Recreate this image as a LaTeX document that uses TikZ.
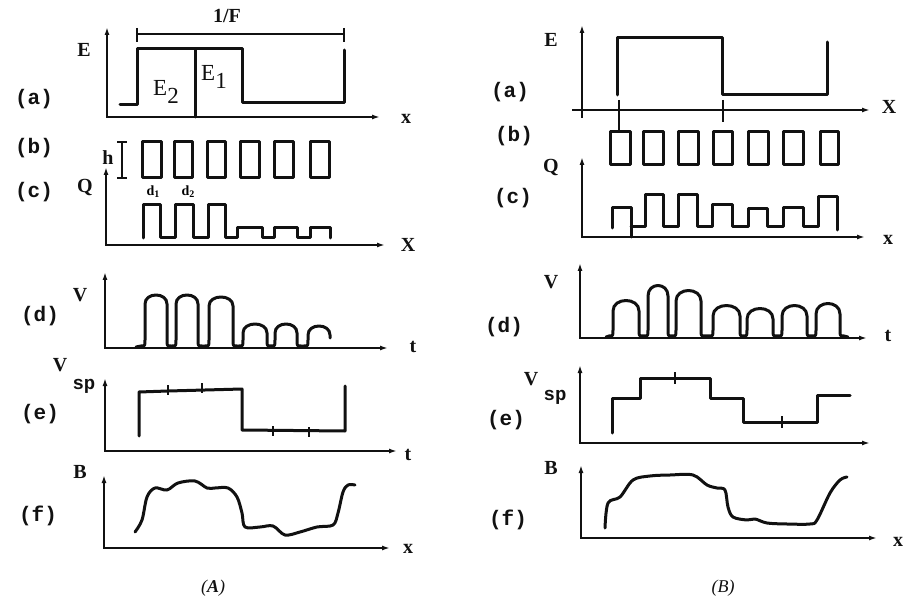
\documentclass[tikz,border=0pt]{standalone}
\usepackage{fontspec}
\setmainfont{Liberation Serif}
\newfontfamily\monofont{Liberation Mono}
\usepackage{xcolor}
\definecolor{cInk}{HTML}{111111}
\usepackage{tikz}
\usetikzlibrary{positioning,arrows.meta}
\tikzset{
  axis-line/.style={{Latex[length=8pt,width=5pt]}-{Latex[length=8pt,width=5pt]},
    line width=2.3pt,draw=cInk},
  axis-end/.style={-{Latex[length=8pt,width=5pt]},line width=2.3pt,draw=cInk},
  wave-line/.style={line width=3pt,draw=cInk,line join=round,line cap=round},
  tick-line/.style={line width=2pt,draw=cInk},
  lbl-panel/.style={font=\monofont\bfseries\fontsize{21}{24}\selectfont,text=cInk},
  lbl-var/.style={font=\bfseries\fontsize{20}{24}\selectfont,text=cInk},
  lbl-sub/.style={font=\fontsize{23}{24}\selectfont,text=cInk},
  lbl-cap/.style={font=\itshape\fontsize{18}{22}\selectfont,text=cInk},
}

\begin{document}
\begin{tikzpicture}[x=1pt,y=-1pt]
  \useasboundingbox (0,0) rectangle (905,612);

  % ---------- (A) ----------
  % panel labels
  \node[lbl-panel] (A-a) at (34,99)  {(a)};
  \node[lbl-panel] (A-b) at (34,148) {(b)};
  \node[lbl-panel] (A-c) at (34,192) {(c)};
  \node[lbl-panel] (A-d) at (40,316) {(d)};
  \node[lbl-panel] (A-e) at (40,414) {(e)};
  \node[lbl-panel] (A-f) at (38,516) {(f)};

  % (a) field E
  \draw[axis-line] (107,27) -- (107,117) -- (380,117);
  \node[lbl-var] (A-E) at (84,50) {E};
  \node[lbl-var] (A-x1) at (406,119) {x};
  \draw[wave-line] (120,105) -- (137,105) -- (137,49) -- (242,49)
    -- (242,103) -- (344,103) -- (344,50);
  \draw[wave-line] (195,49) -- (195,117);
  \draw[tick-line] (137,34) -- (344,34);
  \draw[tick-line] (137,28) -- (137,42) (344,28) -- (344,42);
  \node[lbl-var] (A-F) at (227,16) {1/F};
  \node[lbl-sub] (A-E2) at (166,92) {E\raisebox{-8pt}{2}};
  \node[lbl-sub] (A-E1) at (214,77) {E\raisebox{-8pt}{1}};

  % (b) grid
  \foreach \xa/\xb in {142/161,174/192,207/225,240/259,274/293,310/329}
    \draw[wave-line] (\xa,142) rectangle (\xb,178);
  \draw[tick-line] (122,142) -- (122,178) (117,142) -- (127,142) (117,178) -- (127,178);
  \node[lbl-var] (A-h) at (108,158) {h};

  % (c) charge Q
  \draw[axis-line] (106,167) -- (106,245) -- (385,245);
  \node[lbl-var] (A-Q) at (85,188) {Q};
  \node[lbl-var] (A-x2) at (408,245) {X};
  \draw[wave-line] (143,238) -- (143,205) -- (160,205) -- (160,238)
    -- (175,238) -- (175,205) -- (193,205) -- (193,238)
    -- (208,238) -- (208,205) -- (225,205) -- (225,238)
    -- (237,238) -- (237,228) -- (262,228) -- (262,238)
    -- (274,238) -- (274,228) -- (297,228) -- (297,238)
    -- (310,238) -- (310,228) -- (330,228) -- (330,238);
  \node[font=\bfseries\fontsize{14}{15}\selectfont] (A-d1) at (153,192) {d\raisebox{-2pt}{\fontsize{10}{11}\selectfont 1}};
  \node[font=\bfseries\fontsize{14}{15}\selectfont] (A-d2) at (188,192) {d\raisebox{-2pt}{\fontsize{10}{11}\selectfont 2}};

  % (d) signal V
  \draw[axis-line] (105,272) -- (105,348) -- (388,348);
  \node[lbl-var] (A-V) at (80,295) {V};
  \node[lbl-var] (A-t1) at (413,347) {t};
  \draw[wave-line] (136,347)
    \foreach \a/\b/\h in {145/167/292,176/198/292,209/233/294,243/267/321,275/297/321}
      { -- (\a-4,346) .. controls (\a,346) .. (\a,340) -- (\a,\h+12)
        .. controls (\a,\h) and (\b,\h) .. (\b,\h+12) -- (\b,340)
        .. controls (\b,346) .. (\b+4,346) }
    -- (304,346) .. controls (308,346) .. (308,340) -- (308,335)
    .. controls (308,323) and (330,323) .. (330,335) -- (330,338);

  % (e) V_sp
  \draw[axis-line] (105,378) -- (105,451) -- (397,451);
  \node[lbl-var] (A-V2) at (60,365) {V};
  \node[lbl-panel,font=\monofont\bfseries\fontsize{19}{22}\selectfont] (A-sp) at (84,386) {sp};
  \node[lbl-var] (A-t2) at (408,455) {t};
  \draw[wave-line] (139,436) -- (139,392) -- (168,391) -- (242,389)
    -- (242,430) -- (345,431) -- (345,386);
  \draw[tick-line] (168,385) -- (168,395) (202,383) -- (202,393)
    (273,426) -- (273,436) (309,427) -- (309,437);

  % (f) B
  \draw[axis-line] (104,475) -- (104,548) -- (390,548);
  \node[lbl-var] (A-B) at (80,472) {B};
  \node[lbl-var] (A-x3) at (408,549) {x};
  \draw[wave-line] plot[smooth,tension=0.55] coordinates {(135,532) (142,520)
    (147,497) (155,488) (167,490) (178,483) (195,481) (207,488) (215,488)
    (228,488) (237,497) (242,513) (245,527) (260,527) (273,526) (285,535)
    (300,532) (317,527) (333,525) (338,513) (343,492) (348,485) (355,485)};

  \node[lbl-cap] (A-cap) at (213,588) {(\textbf{A})};

  % ---------- (B) ----------
  \node[lbl-panel] (B-a) at (510,92)  {(a)};
  \node[lbl-panel] (B-b) at (514,136) {(b)};
  \node[lbl-panel] (B-c) at (513,198) {(c)};
  \node[lbl-panel] (B-d) at (504,327) {(d)};
  \node[lbl-panel] (B-e) at (506,420) {(e)};
  \node[lbl-panel] (B-f) at (508,520) {(f)};

  % (a) field E
  \draw[axis-end] (582,118) -- (582,25);
  \draw[axis-end] (572,110) -- (870,110);
  \node[lbl-var] (B-E) at (551,40) {E};
  \node[lbl-var] (B-x1) at (889,107) {X};
  \draw[wave-line] (617,95) -- (617,38) -- (722,38) -- (722,95)
    -- (827,95) -- (827,42);
  \draw[tick-line] (619,100) -- (619,132) (723,100) -- (723,122);

  % (b) grid
  \foreach \xa/\xb in {610/630,643/663,678/698,713/732,748/768,783/803,820/838}
    \draw[wave-line] (\xa,132) rectangle (\xb,165);

  % (c) charge Q
  \draw[axis-line] (582,157) -- (582,237) -- (865,237);
  \node[lbl-var] (B-Q) at (551,168) {Q};
  \node[lbl-var] (B-x2) at (888,240) {x};
  \draw[wave-line] (612,228) -- (612,208) -- (631,208) -- (631,237)
    (631,227) -- (645,227) -- (645,195) -- (663,195) -- (663,227)
    -- (678,227) -- (678,195) -- (697,195) -- (697,227)
    -- (712,227) -- (712,205) -- (732,205) -- (732,227)
    -- (748,227) -- (748,209) -- (767,209) -- (767,227)
    -- (783,227) -- (783,208) -- (803,208) -- (803,227)
    -- (818,227) -- (818,197) -- (837,197) -- (837,230);

  % (d) signal V
  \draw[axis-line] (580,263) -- (580,338) -- (867,338);
  \node[lbl-var] (B-V) at (551,282) {V};
  \node[lbl-var] (B-t1) at (888,336) {t};
  \draw[wave-line] (606,337)
    \foreach \a/\b/\h in {613/639/297,648/668/282,676/701/287,713/740/302,
                          747/773/305,782/807/302,816/840/300}
      { -- (\a-4,336) .. controls (\a,336) .. (\a,330) -- (\a,\h+14)
        .. controls (\a,\h) and (\b,\h) .. (\b,\h+14) -- (\b,330)
        .. controls (\b,336) .. (\b+4,336) }
    -- (848,337);

  % (e) V_sp
  \draw[axis-line] (580,365) -- (580,443) -- (870,443);
  \node[lbl-var] (B-V2) at (531,379) {V};
  \node[lbl-panel,font=\monofont\bfseries\fontsize{19}{22}\selectfont] (B-sp) at (555,397) {sp};
  \draw[wave-line] (612,433) -- (612,398) -- (640,398) -- (640,378)
    -- (710,378) -- (710,398) -- (743,398) -- (743,422) -- (817,422)
    -- (817,395) -- (850,395);
  \draw[tick-line] (675,372) -- (675,384) (782,416) -- (782,428);

  % (f) B
  \draw[axis-line] (581,465) -- (581,538) -- (877,538);
  \node[lbl-var] (B-B) at (551,468) {B};
  \node[lbl-var] (B-x3) at (898,542) {x};
  \draw[wave-line] plot[smooth,tension=0.55] coordinates {(605,528) (608,503)
    (620,497) (633,480) (650,476) (670,475) (693,475) (707,485) (717,488)
    (725,490) (728,507) (733,517) (747,520) (755,519) (767,523) (787,524)
    (810,524) (817,520) (830,493) (840,480) (847,477)};

  \node[lbl-cap] (B-cap) at (723,588) {(\textit{B})};
\end{tikzpicture}
\end{document}
